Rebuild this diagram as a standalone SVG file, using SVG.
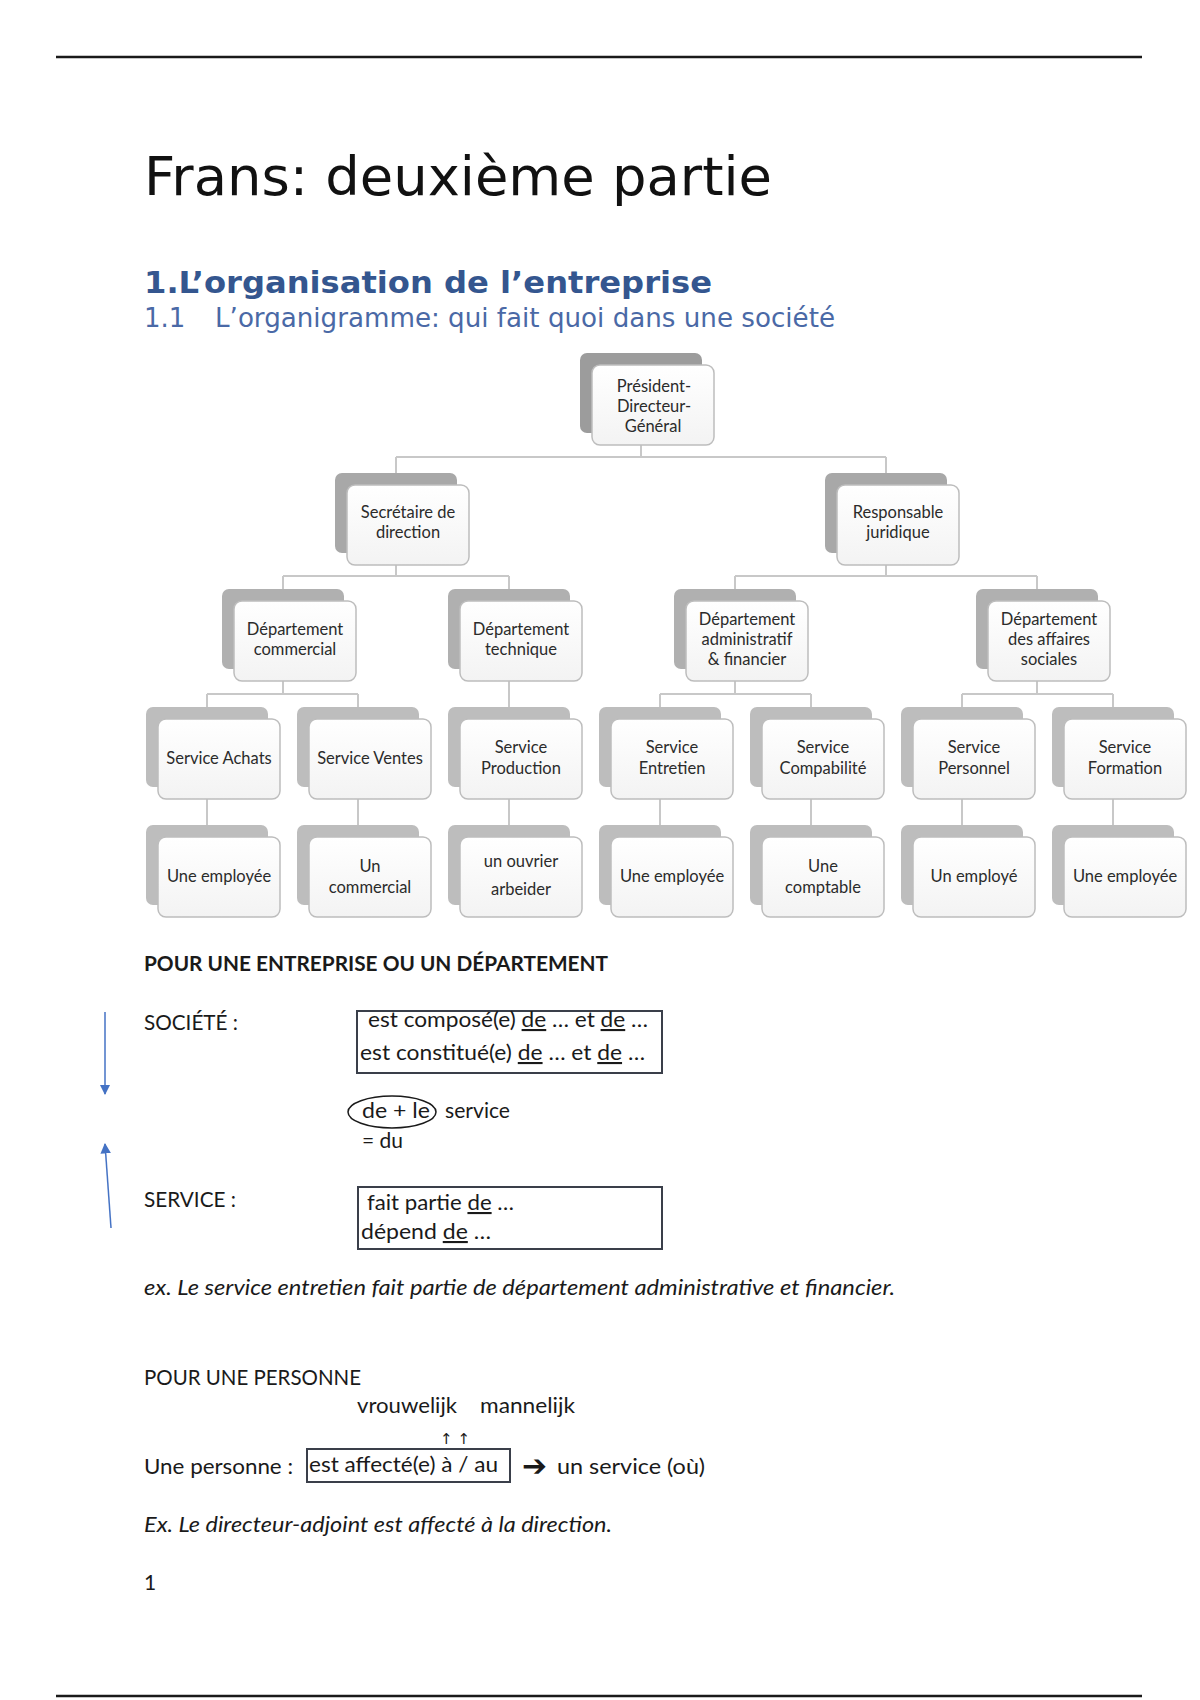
<svg xmlns="http://www.w3.org/2000/svg" width="1200" height="1700" viewBox="0 0 1200 1700">
<style>
.bk0{fill:#9c9c9c}
.bk1{fill:#a8a8a8}
.bk2{fill:#b0b0b0}
.bk3{fill:#bdbdbd}
.fr{fill:url(#fg);stroke:#bdbdbd;stroke-width:1.5}
.nt{font-family:Lato,"Liberation Sans",sans-serif;font-size:16.5px;fill:#2b2b2b;text-anchor:middle}
.cn{stroke:#c8c8c8;stroke-width:2;fill:none}
.body{font-family:Lato,"Liberation Sans",sans-serif;font-size:21px;fill:#1a1a1a}
.it{font-style:italic}
.u{text-decoration:underline}
.bx{fill:none;stroke:#3a3f4a;stroke-width:2}
.rule{stroke:#1a1a1a;stroke-width:2.5}
</style>
<defs>
<linearGradient id="fg" x1="0" y1="0" x2="0" y2="1">
<stop offset="0" stop-color="#ffffff"/>
<stop offset="1" stop-color="#f3f3f3"/>
</linearGradient>
<marker id="ah" viewBox="0 0 10 10" refX="9" refY="5" markerWidth="7" markerHeight="7" orient="auto">
<path d="M0,0 L10,5 L0,10 z" fill="#4472c4"/>
</marker>
</defs>
<rect width="1200" height="1700" fill="#ffffff"/>
<line class="rule" x1="56" y1="57" x2="1142" y2="57"/>
<line class="rule" x1="56" y1="1696" x2="1142" y2="1696"/>

<text x="144" y="195" font-family="DejaVu Sans,sans-serif" font-size="54" fill="#111" textLength="628" lengthAdjust="spacingAndGlyphs">Frans: deuxième partie</text>
<text x="144" y="293" font-family="DejaVu Sans,sans-serif" font-size="31" font-weight="bold" fill="#34568f" textLength="568" lengthAdjust="spacingAndGlyphs">1.L’organisation de l’entreprise</text>
<text x="144" y="327" font-family="DejaVu Sans,sans-serif" font-size="26" fill="#4a69a6">1.1</text>
<text x="215" y="327" font-family="DejaVu Sans,sans-serif" font-size="26" fill="#4a69a6" textLength="620" lengthAdjust="spacingAndGlyphs">L’organigramme: qui fait quoi dans une société</text>

<g id="connectors">
<path class="cn" d="M641,445 V457 M396,457 H886 M396,457 V473 M886,457 V473"/>
<path class="cn" d="M396,565 V576 M283,576 H509 M283,576 V589 M509,576 V589"/>
<path class="cn" d="M886,565 V576 M735,576 H1037 M735,576 V589 M1037,576 V589"/>
<path class="cn" d="M283,681 V694 M207,694 H358 M207,694 V707 M358,694 V707"/>
<path class="cn" d="M509,681 V707"/>
<path class="cn" d="M735,681 V694 M660,694 H811 M660,694 V707 M811,694 V707"/>
<path class="cn" d="M1037,681 V694 M962,694 H1113 M962,694 V707 M1113,694 V707"/>
<path class="cn" d="M207,799 V825 M358,799 V825 M509,799 V825 M660,799 V825 M811,799 V825 M962,799 V825 M1113,799 V825"/>
</g>

<g id="n-pdg"><rect class="bk0" x="580" y="353" width="122" height="80" rx="7"/><rect class="fr" x="592" y="365" width="122" height="80" rx="8"/>
<text class="nt"><tspan x="654" y="392">Président-</tspan><tspan x="654" y="412">Directeur-</tspan><tspan x="653" y="432">Général</tspan></text></g>

<g id="n-secretaire"><rect class="bk1" x="335" y="473" width="122" height="80" rx="7"/><rect class="fr" x="347" y="485" width="122" height="80" rx="8"/>
<text class="nt"><tspan x="408" y="518">Secrétaire de</tspan><tspan x="408" y="538">direction</tspan></text></g>

<g id="n-responsable"><rect class="bk1" x="825" y="473" width="122" height="80" rx="7"/><rect class="fr" x="837" y="485" width="122" height="80" rx="8"/>
<text class="nt"><tspan x="898" y="518">Responsable</tspan><tspan x="898" y="538">juridique</tspan></text></g>

<g id="n-dep-commercial"><rect class="bk2" x="222" y="589" width="122" height="80" rx="7"/><rect class="fr" x="234" y="601" width="122" height="80" rx="8"/>
<text class="nt"><tspan x="295" y="635">Département</tspan><tspan x="295" y="655">commercial</tspan></text></g>

<g id="n-dep-technique"><rect class="bk2" x="448" y="589" width="122" height="80" rx="7"/><rect class="fr" x="460" y="601" width="122" height="80" rx="8"/>
<text class="nt"><tspan x="521" y="635">Département</tspan><tspan x="521" y="655">technique</tspan></text></g>

<g id="n-dep-admin"><rect class="bk2" x="674" y="589" width="122" height="80" rx="7"/><rect class="fr" x="686" y="601" width="122" height="80" rx="8"/>
<text class="nt"><tspan x="747" y="625">Département</tspan><tspan x="747" y="645">administratif</tspan><tspan x="747" y="665">&amp; financier</tspan></text></g>

<g id="n-dep-sociales"><rect class="bk2" x="976" y="589" width="122" height="80" rx="7"/><rect class="fr" x="988" y="601" width="122" height="80" rx="8"/>
<text class="nt"><tspan x="1049" y="625">Département</tspan><tspan x="1049" y="645">des affaires</tspan><tspan x="1049" y="665">sociales</tspan></text></g>

<g id="n-achats"><rect class="bk3" x="146" y="707" width="122" height="80" rx="7"/><rect class="fr" x="158" y="719" width="122" height="80" rx="8"/>
<text class="nt" x="219" y="764">Service Achats</text></g>
<g id="n-ventes"><rect class="bk3" x="297" y="707" width="122" height="80" rx="7"/><rect class="fr" x="309" y="719" width="122" height="80" rx="8"/>
<text class="nt" x="370" y="764">Service Ventes</text></g>
<g id="n-production"><rect class="bk3" x="448" y="707" width="122" height="80" rx="7"/><rect class="fr" x="460" y="719" width="122" height="80" rx="8"/>
<text class="nt"><tspan x="521" y="753">Service</tspan><tspan x="521" y="774">Production</tspan></text></g>
<g id="n-entretien"><rect class="bk3" x="599" y="707" width="122" height="80" rx="7"/><rect class="fr" x="611" y="719" width="122" height="80" rx="8"/>
<text class="nt"><tspan x="672" y="753">Service</tspan><tspan x="672" y="774">Entretien</tspan></text></g>
<g id="n-compta"><rect class="bk3" x="750" y="707" width="122" height="80" rx="7"/><rect class="fr" x="762" y="719" width="122" height="80" rx="8"/>
<text class="nt"><tspan x="823" y="753">Service</tspan><tspan x="823" y="774">Compabilité</tspan></text></g>
<g id="n-personnel"><rect class="bk3" x="901" y="707" width="122" height="80" rx="7"/><rect class="fr" x="913" y="719" width="122" height="80" rx="8"/>
<text class="nt"><tspan x="974" y="753">Service</tspan><tspan x="974" y="774">Personnel</tspan></text></g>
<g id="n-formation"><rect class="bk3" x="1052" y="707" width="122" height="80" rx="7"/><rect class="fr" x="1064" y="719" width="122" height="80" rx="8"/>
<text class="nt"><tspan x="1125" y="753">Service</tspan><tspan x="1125" y="774">Formation</tspan></text></g>

<g id="n-emp1"><rect class="bk3" x="146" y="825" width="122" height="80" rx="7"/><rect class="fr" x="158" y="837" width="122" height="80" rx="8"/>
<text class="nt" x="219" y="882">Une employée</text></g>
<g id="n-emp2"><rect class="bk3" x="297" y="825" width="122" height="80" rx="7"/><rect class="fr" x="309" y="837" width="122" height="80" rx="8"/>
<text class="nt"><tspan x="370" y="872">Un</tspan><tspan x="370" y="893">commercial</tspan></text></g>
<g id="n-emp3"><rect class="bk3" x="448" y="825" width="122" height="80" rx="7"/><rect class="fr" x="460" y="837" width="122" height="80" rx="8"/>
<text class="nt"><tspan x="521" y="867">un ouvrier</tspan><tspan x="521" y="895">arbeider</tspan></text></g>
<g id="n-emp4"><rect class="bk3" x="599" y="825" width="122" height="80" rx="7"/><rect class="fr" x="611" y="837" width="122" height="80" rx="8"/>
<text class="nt" x="672" y="882">Une employée</text></g>
<g id="n-emp5"><rect class="bk3" x="750" y="825" width="122" height="80" rx="7"/><rect class="fr" x="762" y="837" width="122" height="80" rx="8"/>
<text class="nt"><tspan x="823" y="872">Une</tspan><tspan x="823" y="893">comptable</tspan></text></g>
<g id="n-emp6"><rect class="bk3" x="901" y="825" width="122" height="80" rx="7"/><rect class="fr" x="913" y="837" width="122" height="80" rx="8"/>
<text class="nt" x="974" y="882">Un employé</text></g>
<g id="n-emp7"><rect class="bk3" x="1052" y="825" width="122" height="80" rx="7"/><rect class="fr" x="1064" y="837" width="122" height="80" rx="8"/>
<text class="nt" x="1125" y="882">Une employée</text></g>

<text class="body" x="144" y="971" font-weight="bold" textLength="464" lengthAdjust="spacingAndGlyphs">POUR UNE ENTREPRISE OU UN DÉPARTEMENT</text>

<line x1="105" y1="1012" x2="105" y2="1094" stroke="#4472c4" stroke-width="1.5" marker-end="url(#ah)"/>
<line x1="111" y1="1228" x2="105" y2="1144" stroke="#4472c4" stroke-width="1.5" marker-end="url(#ah)"/>

<text class="body" x="144" y="1030" textLength="94" lengthAdjust="spacingAndGlyphs">SOCIÉTÉ :</text>
<rect class="bx" x="357" y="1011" width="305" height="62"/>
<text class="body" x="368" y="1027" textLength="280" lengthAdjust="spacingAndGlyphs">est composé(e) <tspan class="u">de</tspan> … et <tspan class="u">de</tspan> …</text>
<text class="body" x="360" y="1060" textLength="285" lengthAdjust="spacingAndGlyphs">est constitué(e) <tspan class="u">de</tspan> … et <tspan class="u">de</tspan> …</text>

<ellipse cx="392" cy="1112" rx="44" ry="16" fill="none" stroke="#1a1a1a" stroke-width="1.5"/>
<text class="body" x="362" y="1118" textLength="68" lengthAdjust="spacingAndGlyphs">de + le</text>
<text class="body" x="445" y="1118" textLength="65" lengthAdjust="spacingAndGlyphs">service</text>
<text class="body" x="362" y="1148" textLength="41" lengthAdjust="spacingAndGlyphs">= du</text>

<text class="body" x="144" y="1207" textLength="92" lengthAdjust="spacingAndGlyphs">SERVICE :</text>
<rect class="bx" x="358" y="1187" width="304" height="62"/>
<text class="body" x="367" y="1210" textLength="147" lengthAdjust="spacingAndGlyphs">fait partie <tspan class="u">de</tspan> …</text>
<text class="body" x="361" y="1239" textLength="130" lengthAdjust="spacingAndGlyphs">dépend <tspan class="u">de</tspan> …</text>

<text class="body it" x="144" y="1295" textLength="751" lengthAdjust="spacingAndGlyphs">ex. Le service entretien fait partie de département administrative et financier.</text>

<text class="body" x="144" y="1385" textLength="217" lengthAdjust="spacingAndGlyphs">POUR UNE PERSONNE</text>
<text class="body" x="357" y="1413" textLength="100" lengthAdjust="spacingAndGlyphs">vrouwelijk</text>
<text class="body" x="480" y="1413" textLength="95" lengthAdjust="spacingAndGlyphs">mannelijk</text>
<text x="455" y="1444" font-family="DejaVu Sans,sans-serif" font-size="15" fill="#1a1a1a" text-anchor="middle">↑ ↑</text>
<text class="body" x="144" y="1474" textLength="149" lengthAdjust="spacingAndGlyphs">Une personne :</text>
<rect class="bx" x="307" y="1449" width="203" height="33"/>
<text class="body" x="309" y="1472" textLength="189" lengthAdjust="spacingAndGlyphs">est affecté(e) à / au</text>
<text x="522" y="1476" font-family="DejaVu Sans,sans-serif" font-size="30" font-weight="bold" fill="#1a1a1a" textLength="25" lengthAdjust="spacingAndGlyphs">➔</text>
<text class="body" x="557" y="1474" textLength="148" lengthAdjust="spacingAndGlyphs">un service  (où)</text>

<text class="body it" x="144" y="1532" textLength="468" lengthAdjust="spacingAndGlyphs">Ex. Le directeur-adjoint est affecté à la direction.</text>
<text class="body" x="144" y="1590">1</text>
</svg>
